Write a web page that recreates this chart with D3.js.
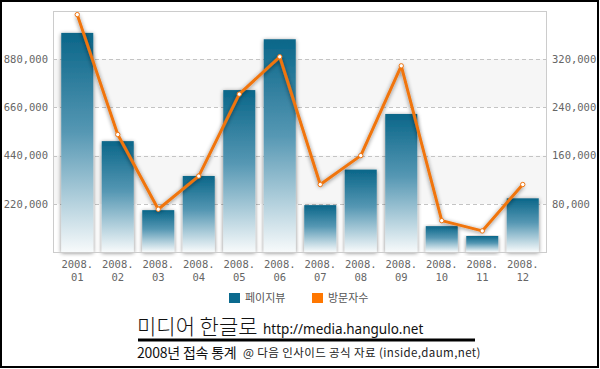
<!DOCTYPE html>
<html><head><meta charset="utf-8">
<script src="https://cdn.jsdelivr.net/npm/d3@7/dist/d3.min.js"></script>
<style>body{margin:0;background:#fff}svg{display:block}</style>
</head><body>
<svg id="c" width="600" height="369"></svg>
<script>
const months = ["01","02","03","04","05","06","07","08","09","10","11","12"];
const yearLabel = "2008.";
const pageViews = [1000000, 506000, 191000, 347000, 739000, 971000, 214000, 376000, 630000, 118000, 73000, 245000];
const visitors = [394000, 195000, 71000, 126000, 262000, 324000, 112000, 160000, 309000, 52000, 35000, 112000];
const leftTicks = [220000, 440000, 660000, 880000];
const rightTicks = [80000, 160000, 240000, 320000];
const legendLabels = ["페이지뷰", "방문자수"];
const titleMain = "미디어 한글로";
const titleUrl = "http://media.hangulo.net";
const subTitle = "2008년 접속 통계";
const source = "@ 다음 인사이드 공식 자료 (inside,daum,net)";

const svg = d3.select("#c");
const L = 53, R = 547, T = 11, B = 252;
const defs = svg.append("defs");
const g1 = defs.append("linearGradient").attr("id","barG").attr("x1",0).attr("y1",0).attr("x2",0).attr("y2",1);
g1.append("stop").attr("offset","0%").attr("stop-color","#0a6689");
g1.append("stop").attr("offset","45%").attr("stop-color","#5597b3");
g1.append("stop").attr("offset","100%").attr("stop-color","#f7fafb");
const f = defs.append("filter").attr("id","sh").attr("x","-30%").attr("y","-10%").attr("width","160%").attr("height","130%");
f.append("feGaussianBlur").attr("in","SourceAlpha").attr("stdDeviation",2).attr("result","b");
f.append("feOffset").attr("in","b").attr("dx",0).attr("dy",1).attr("result","o");
f.append("feComponentTransfer").attr("in","o").attr("result","o2").append("feFuncA").attr("type","linear").attr("slope",0.5);
const m = f.append("feMerge"); m.append("feMergeNode").attr("in","o2"); m.append("feMergeNode").attr("in","SourceGraphic");

const x = d3.scaleBand().domain(months).range([57, 543]).paddingInner(0.21).paddingOuter(0.105);
const yL = d3.scaleLinear().domain([0, 1100000]).range([B, T]);
const yR = d3.scaleLinear().domain([0, 400000]).range([B, T]);

// bands
[[220000,440000],[660000,880000]].forEach(([a,b])=>{
  svg.append("rect").attr("x",L).attr("y",yL(b)).attr("width",R-L).attr("height",yL(a)-yL(b)).attr("fill","#f6f6f6");
});
// gridlines
svg.append("g").selectAll("line").data(leftTicks).join("line")
  .attr("x1",L).attr("x2",R).attr("y1",d=>Math.round(yL(d))+0.5).attr("y2",d=>Math.round(yL(d))+0.5)
  .attr("stroke","#c4c4c4").attr("stroke-dasharray","4,3");
// frame
svg.append("rect").attr("x",L+0.5).attr("y",T+0.5).attr("width",R-L-1).attr("height",B-T).attr("fill","none").attr("stroke","#cccccc");

// bars
svg.append("g").selectAll("rect").data(pageViews).join("rect")
  .attr("x",(d,i)=>x(months[i])).attr("width",x.bandwidth())
  .attr("y",d=>yL(d)).attr("height",d=>B-yL(d))
  .attr("fill","url(#barG)").attr("filter","url(#sh)");
svg.append("line").attr("x1",L).attr("x2",R).attr("y1",B+0.5).attr("y2",B+0.5).attr("stroke","#cccccc");

// line
const line = d3.line().x((d,i)=>x(months[i])+x.bandwidth()/2).y(d=>yR(d));
svg.append("path").datum(visitors).attr("d",line).attr("fill","none")
  .attr("stroke","#f07510").attr("stroke-width",3).attr("stroke-linejoin","round").attr("filter","url(#sh)");
svg.append("g").selectAll("circle").data(visitors).join("circle")
  .attr("cx",(d,i)=>x(months[i])+x.bandwidth()/2).attr("cy",d=>yR(d)).attr("r",2.2)
  .attr("fill","#fff").attr("stroke","#f07510").attr("stroke-width",1);

// axes
const axL = svg.append("g").attr("transform",`translate(${L},0)`)
  .call(d3.axisLeft(yL).tickValues(leftTicks).tickSize(0).tickPadding(5).tickFormat(d3.format(",")));
const axR = svg.append("g").attr("transform",`translate(${R},0)`)
  .call(d3.axisRight(yR).tickValues(rightTicks).tickSize(0).tickPadding(5).tickFormat(d3.format(",")));
[axL,axR].forEach(a=>{a.select(".domain").remove();
  a.selectAll("text").attr("font-family","DejaVu Sans Mono").attr("font-size","10.5px").attr("fill","#666");});
const axB = svg.append("g").attr("transform",`translate(0,${B})`)
  .call(d3.axisBottom(x).tickSize(0).tickFormat(()=>""));
axB.select(".domain").remove();
axB.selectAll(".tick text").each(function(d){
  const t = d3.select(this).attr("font-family","DejaVu Sans Mono").attr("font-size","10.5px").attr("fill","#666").attr("y",0).attr("dy",null);
  t.append("tspan").attr("x",0).attr("y",16).text(yearLabel);
  t.append("tspan").attr("x",0).attr("y",29).text(d);
});

// legend
const lg = svg.append("g");
const legColors = ["#0b6a8e","#ff7700"];
const legX = [229, 312];
legendLabels.forEach((l,i)=>{
  lg.append("rect").attr("x",legX[i]).attr("y",293).attr("width",11).attr("height",10).attr("fill",legColors[i]);
  lg.append("text").attr("x",legX[i]+16).attr("y",302).text(l).attr("font-family","Noto Sans CJK KR").attr("font-size","11px").attr("fill","#555");
});

// title block
svg.append("text").attr("x",137).attr("y",334).text(titleMain).attr("font-family","Noto Sans CJK KR").attr("font-size","21px").attr("font-weight",300).attr("fill","#111");
svg.append("text").attr("x",263).attr("y",334).text(titleUrl).attr("font-family","Noto Sans").attr("font-size","13.5px").attr("fill","#111");
svg.append("rect").attr("x",138).attr("y",338.5).attr("width",337).attr("height",3).attr("fill","#000");
svg.append("text").attr("x",137).attr("y",358).text(subTitle).attr("font-family","Noto Sans CJK KR").attr("font-size","14px").attr("letter-spacing","-0.2px").attr("fill","#111");
svg.append("text").attr("x",243).attr("y",357).text(source).attr("font-family","Noto Sans CJK KR").attr("font-size","11.5px").attr("letter-spacing","0.4px").attr("fill","#222");

// outer border
svg.append("rect").attr("x",1).attr("y",1).attr("width",597).attr("height",366).attr("fill","none").attr("stroke","#000").attr("stroke-width",2);
</script>
</body></html>
